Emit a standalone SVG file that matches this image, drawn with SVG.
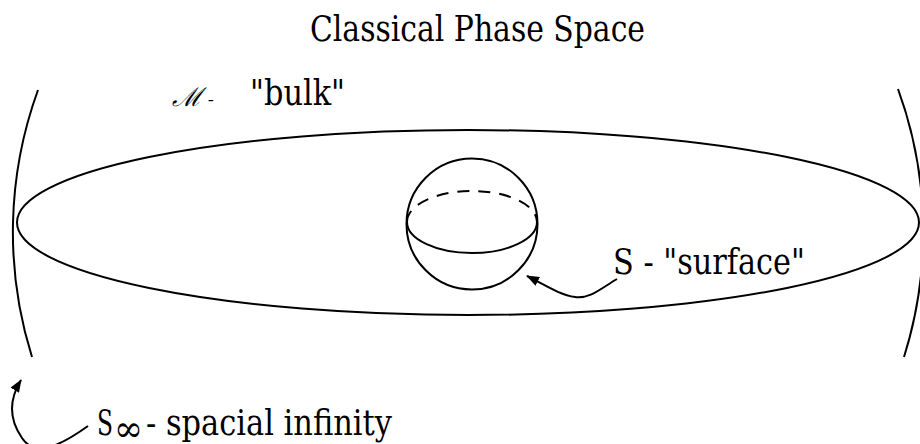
<svg xmlns="http://www.w3.org/2000/svg" width="920" height="444" viewBox="0 0 920 444">
<style>
.ln{fill:none;stroke:#000;stroke-width:2}
text{fill:#000}
.t{font-family:'DejaVu Serif',serif}
</style>
<defs>
<marker id="ah" markerWidth="14" markerHeight="12" refX="12" refY="5" orient="auto" markerUnits="userSpaceOnUse">
<path d="M0,0 L13,5 L0,10 Z" fill="#000"/>
</marker>
</defs>
<rect width="920" height="444" fill="#fff"/>
<g id="title"><text class="t" x="310" y="41" font-size="35" textLength="335" lengthAdjust="spacingAndGlyphs">Classical Phase Space</text></g>
<g id="bulk">
<ellipse class="ln" cx="468" cy="222.5" rx="451" ry="92.5"/>
<text x="172" y="106" font-family="'DejaVu Serif', serif" font-style="italic" font-size="26">ℳ<tspan font-size="18"> -</tspan></text>
<text class="t" x="250" y="105" font-size="35" textLength="95" lengthAdjust="spacingAndGlyphs">"bulk"</text>
</g>
<g id="surface">
<circle class="ln" cx="472" cy="224" r="65.5"/>
<path class="ln" d="M407,222 A65,31 0 0 0 537,222"/>
<path class="ln" d="M407,222 A65,31 0 0 1 537,222" stroke-dasharray="12,9"/>
<text class="t" x="613" y="274" font-size="35" textLength="192" lengthAdjust="spacingAndGlyphs">S - "surface"</text>
</g>
<g id="infinity">
<path class="ln" d="M38,90 A416,416 0 0 0 32,357"/>
<path class="ln" d="M898,89 A416,416 0 0 1 904,357"/>
<text class="t" x="97" y="435" font-size="35"><tspan textLength="16" lengthAdjust="spacingAndGlyphs">S</tspan><tspan x="114" font-size="36" dy="6" textLength="29" lengthAdjust="spacingAndGlyphs">∞</tspan><tspan x="146" dy="-6" textLength="246" lengthAdjust="spacingAndGlyphs">- spacial infinity</tspan></text>
</g>
<g id="connectors">
<path class="ln" d="M617,279 C600,289 590,299 575,297 C560,295 545,285 527,276" marker-end="url(#ah)"/>
<path class="ln" d="M88,426 C60,446 35,458 22,438 C8,418 10,398 21,380" marker-end="url(#ah)"/>
</g>
</svg>
